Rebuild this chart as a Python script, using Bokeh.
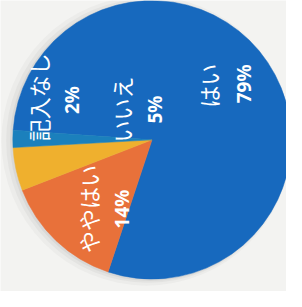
import math
from bokeh.plotting import figure
from bokeh.models import Range1d, ColumnDataSource
from bokeh.core.properties import value
from bokeh.embed import file_html
from bokeh.resources import INLINE

# ---- data ----
categories = ["はい", "ややはい", "いいえ", "記入なし"]
percents = [79, 14, 5, 2]
pct_labels = ["79%", "14%", "5%", "2%"]
colors = ["#1769BE", "#E8713A", "#EFB02E", "#1B80BC"]

# ---- layout (reference-pixel coordinates, y up) ----
W, H = 286, 291
cx, cy, R = 160, 160, 147
start_deg = 176.0  # slices run clockwise from here (photo is rotated)

# label anchor points (x, y) for name and percent of each category
name_pos = [(219, 217), (92, 87), (127, 192), (40, 205)]
pct_pos = [(257, 219), (128, 87), (163, 192), (76, 202)]

p = figure(width=W, height=H, output_backend="svg", toolbar_location=None,
           x_range=Range1d(0, 302), y_range=Range1d(0, 307),
           min_border=0)
p.axis.visible = False
p.grid.visible = False
p.outline_line_color = None
p.background_fill_color = "#F3F3F1"
p.border_fill_color = "#F3F3F1"

# soft shadow
for dx, r, a in [(-6, R + 6, 0.06), (-4, R + 3, 0.08), (-2, R + 1, 0.10)]:
    p.circle(x=[cx + dx], y=[cy - 1], radius=r, fill_color="#808080",
             fill_alpha=a, line_color=None)

starts, ends = [], []
cum = 0.0
for v in percents:
    a0 = start_deg - cum * 3.6
    cum += v
    a1 = start_deg - cum * 3.6
    starts.append(math.radians(a1))
    ends.append(math.radians(a0))

src = ColumnDataSource(dict(x=[cx] * len(percents), y=[cy] * len(percents),
                            start=starts, end=ends, color=colors))
p.wedge(x="x", y="y", radius=R, start_angle="start", end_angle="end",
        direction="anticlock", fill_color="color", line_color="color",
        line_width=0.5, source=src)

p.text(x=[q[0] for q in name_pos], y=[q[1] for q in name_pos], text=categories,
       angle=math.pi / 2, text_align="center", text_baseline="middle",
       text_color="white", text_font=value("Noto Sans CJK JP"),
       text_font_size="22px")
p.text(x=[q[0] for q in pct_pos], y=[q[1] for q in pct_pos], text=pct_labels,
       angle=math.pi / 2, text_align="center", text_baseline="middle",
       text_color="white", text_font=value("Noto Sans"),
       text_font_style="bold", text_font_size="19px")

open("out.html", "w").write(file_html(p, INLINE))
